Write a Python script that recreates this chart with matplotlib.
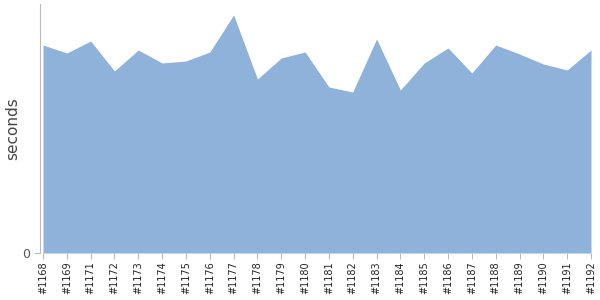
import matplotlib
matplotlib.use("Agg")
import matplotlib.pyplot as plt
import numpy as np

builds = ["#1168", "#1169", "#1171", "#1172", "#1173", "#1174", "#1175", "#1176",
          "#1177", "#1178", "#1179", "#1180", "#1181", "#1182", "#1183", "#1184",
          "#1185", "#1186", "#1187", "#1188", "#1189", "#1190", "#1191", "#1192"]
seconds = [208, 200, 212, 182, 203, 190, 192, 201,
           238, 174, 195, 201, 166, 161, 214, 163,
           190, 205, 180, 208, 199, 189, 183, 203]

fig = plt.figure(figsize=(6, 3), dpi=100)
ax = fig.add_axes([40/600, 1 - 253/300, 551/600, 249/300])
x = np.arange(len(builds))
ax.fill_between(x, seconds, 0, color="#8fb2db", linewidth=0)
ax.set_xlim(-0.126, len(builds) - 1)
ax.set_ylim(0, 249)
ax.set_yticks([0])
ax.set_yticklabels(["0"], fontsize=9, color="#555555")
ax.set_xticks(x)
ax.set_xticklabels(builds, rotation=90, fontsize=7, color="#222222")
ax.tick_params(axis="x", length=4, color="#bbbbbb", pad=2)
ax.tick_params(axis="y", length=4, color="#bbbbbb", pad=3)
for s in ["top", "right", "bottom"]:
    ax.spines[s].set_visible(False)
ax.spines["left"].set_color("#bbbbbb")
ax.set_ylabel("seconds", fontsize=11, color="#444444")
ax.yaxis.set_label_coords(-0.036, 0.5)
fig.savefig("out.png", dpi=100)
